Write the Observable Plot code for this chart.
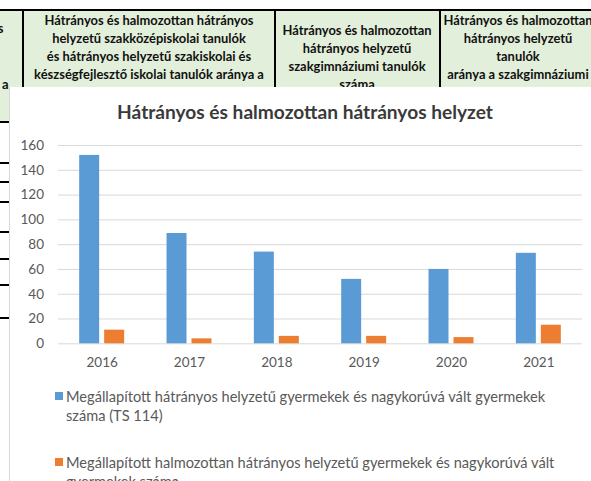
<!DOCTYPE html>
<html>
<head>
<meta charset="utf-8">
<script src="https://cdn.jsdelivr.net/npm/d3@7"></script>
<script src="https://cdn.jsdelivr.net/npm/@observablehq/plot@0.6"></script>
<style>
  html, body { margin: 0; padding: 0; background: #fff; }
  body { width: 591px; height: 481px; position: relative; overflow: hidden; font-family: Lato, "Open Sans", sans-serif; }
  .layer { position: absolute; left: 0; top: 0; }
  #panel { position: absolute; left: 9px; top: 87px; width: 582px; height: 394px; background: #fff; border-left: 1px solid #d9d9d9; box-sizing: border-box; }
  .plot { position: absolute; left: 10px; top: 130px; }
</style>
</head>
<body>
<svg id="sheet" class="layer" width="591" height="481"></svg>
<div id="panel"></div>
<div id="axes" class="plot"></div>
<div id="bars" class="plot"></div>
<svg id="deco" class="layer" width="591" height="481"></svg>
<script>
// ---- data ----
const years = ["2016", "2017", "2018", "2019", "2020", "2021"];
const seriesNames = [
  "Megállapított hátrányos helyzetű gyermekek és nagykorúvá vált gyermekek száma (TS 114)",
  "Megállapított halmozottan hátrányos helyzetű gyermekek és nagykorúvá vált gyermekek száma"
];
const disadvantaged = [152, 89, 74, 52, 60, 73];
const multiplyDisadvantaged = [11, 4, 6, 6, 5, 15];
const yTicks = [0, 20, 40, 60, 80, 100, 120, 140, 160];
const seriesColors = ["#5b9bd5", "#ed7d31"];
const chartTitle = "Hátrányos és halmozottan hátrányos helyzet";
const legendLines = [
  ["Megállapított hátrányos helyzetű gyermekek és nagykorúvá vált gyermekek", "száma (TS 114)"],
  ["Megállapított halmozottan hátrányos helyzetű gyermekek és nagykorúvá vált", "gyermekek száma"]
];
// spreadsheet header text behind the chart
const headerCells = [
  {cx: 149, lines: ["Hátrányos és halmozottan hátrányos", "helyzetű szakközépiskolai tanulók", "és hátrányos helyzetű szakiskolai és", "készségfejlesztő iskolai tanulók aránya a"], y0: 25},
  {cx: 357, lines: ["Hátrányos és halmozottan", "hátrányos helyzetű", "szakgimnáziumi tanulók", "száma"], y0: 35},
  {cx: 518, lines: ["Hátrányos és halmozottan", "hátrányos helyzetű", "tanulók", "aránya a szakgimnáziumi"], y0: 25}
];

const table = years.flatMap((year, i) => [
  {year, series: seriesNames[0], value: disadvantaged[i]},
  {year, series: seriesNames[1], value: multiplyDisadvantaged[i]}
]);

// ---- text measuring helper ----
const ctx = document.createElement("canvas").getContext("2d");
function measure(text, font) { ctx.font = font; return ctx.measureText(text).width; }

const NS = "http://www.w3.org/2000/svg";
function el(parent, tag, attrs, text) {
  const e = document.createElementNS(NS, tag);
  for (const k in attrs) e.setAttribute(k, attrs[k]);
  if (text != null) e.textContent = text;
  parent.appendChild(e);
  return e;
}

// ---- spreadsheet background ----
const sheet = document.getElementById("sheet");
el(sheet, "rect", {x: 0, y: 10, width: 591, height: 80, fill: "#e2efda"});
el(sheet, "rect", {x: 0, y: 10, width: 10, height: 112, fill: "#e2efda"});
el(sheet, "line", {x1: 0, x2: 591, y1: 10, y2: 10, stroke: "#000", "stroke-width": 2});
[23, 275, 440].forEach(x => el(sheet, "line", {x1: x, x2: x, y1: 10, y2: 90, stroke: "#000", "stroke-width": 2}));
[122, 163, 182, 202, 232, 259, 285, 318].forEach(y => el(sheet, "line", {x1: 0, x2: 10, y1: y, y2: y, stroke: "#000", "stroke-width": 2}));
const hFont = "bold 13px Lato";
const hScale = 230 / measure("készségfejlesztő iskolai tanulók aránya a", hFont);
headerCells.forEach(c => c.lines.forEach((t, i) => {
  el(sheet, "text", {transform: `translate(${c.cx},${c.y0 + i * 18}) scale(${hScale},1)`, "text-anchor": "middle",
    "font-family": "Lato", "font-weight": "bold", "font-size": 13, fill: "#111"}, t);
}));
el(sheet, "text", {x: 3.5, y: 33, "text-anchor": "end", "font-family": "Lato", "font-weight": "bold", "font-size": 13, fill: "#111"}, "s");
el(sheet, "text", {x: 8.5, y: 89, "text-anchor": "end", "font-family": "Lato", "font-weight": "bold", "font-size": 13, fill: "#111"}, "a");

// ---- chart: shared geometry ----
const dims = {width: 581, height: 250, marginTop: 15, marginBottom: 36.7, marginLeft: 48, marginRight: 9};
const bandPad = {paddingInner: 0.485, paddingOuter: 0.2425, round: false};
const baseStyle = {fontFamily: "Lato, sans-serif", fontSize: "13.5px", color: "#595959", background: "transparent", overflow: "visible"};

// grid + axes layer
const axesPlot = Plot.plot({
  ...dims,
  style: baseStyle,
  x: {domain: years, ...bandPad, label: null},
  y: {domain: [0, 160], axis: null},
  marks: [
    Plot.ruleY(yTicks, {stroke: "#d9d9d9", strokeWidth: 1}),
    Plot.text(yTicks, {y: d => d, text: d => String(d), frameAnchor: "left", textAnchor: "end", dx: -14.5, fill: "#595959", fontSize: 13.5}),
    Plot.axisX({anchor: "bottom", tickSize: 0, tickPadding: 14, label: null, fontSize: 13.5, fill: "#595959"})
  ]
});
document.getElementById("axes").appendChild(axesPlot);

// grouped bars layer
const barsPlot = Plot.plot({
  ...dims,
  style: baseStyle,
  fx: {domain: years, ...bandPad, axis: null, label: null},
  x: {domain: seriesNames, paddingInner: 0.2, paddingOuter: 0, round: false, axis: null},
  y: {domain: [0, 160], axis: null},
  color: {domain: seriesNames, range: seriesColors},
  marks: [
    Plot.barY(table, {fx: "year", x: "series", y: "value", fill: "series"})
  ]
});
document.getElementById("bars").appendChild(barsPlot);

// ---- title and legend ----
const deco = document.getElementById("deco");
const tSize = 16 * 376 / measure(chartTitle, "bold 16px Lato");
el(deco, "text", {x: 305, y: 118.5, "text-anchor": "middle", "font-family": "Lato", "font-weight": "bold", "font-size": tSize, fill: "#3a3a3a"}, chartTitle);
const lSize = 14 * 480 / measure(legendLines[0][0], "14px Lato");
const legendY = [402, 468];
legendLines.forEach((lines, k) => {
  el(deco, "rect", {x: 55, y: legendY[k] - 10, width: 8, height: 8, fill: seriesColors[k]});
  lines.forEach((t, i) => el(deco, "text", {x: 66, y: legendY[k] + i * 19, "font-family": "Lato", "font-size": lSize, fill: "#595959"}, t));
});
</script>
</body>
</html>
